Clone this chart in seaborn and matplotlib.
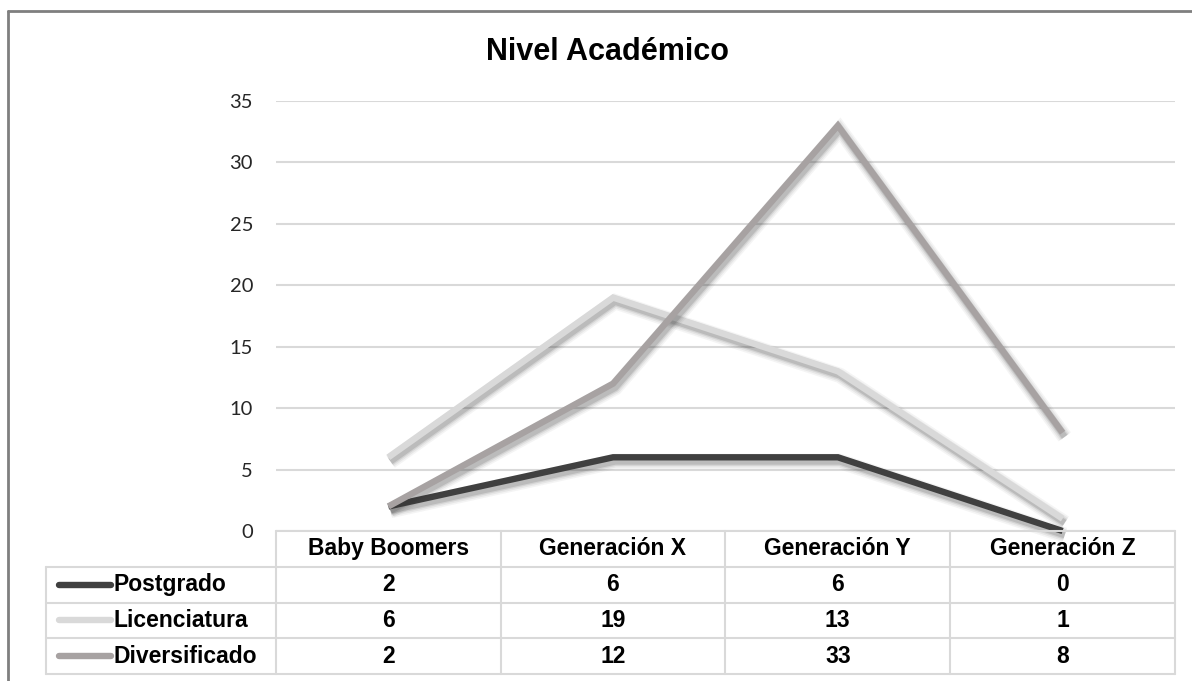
import pandas as pd
import numpy as np
import matplotlib.pyplot as plt
import matplotlib.patheffects as pe
from matplotlib.lines import Line2D
import seaborn as sns

# data
generaciones = ['Baby Boomers', 'Generación X', 'Generación Y', 'Generación Z']
series = ['Postgrado', 'Licenciatura', 'Diversificado']
postgrado = [2, 6, 6, 0]
licenciatura = [6, 19, 13, 1]
diversificado = [2, 12, 33, 8]
colores = ['#404040', '#d9d9d9', '#a7a2a2']
y_ticks = [0, 5, 10, 15, 20, 25, 30, 35]

valores = [postgrado, licenciatura, diversificado]
df = pd.DataFrame({
    'Generacion': generaciones * len(series),
    'Nivel': np.repeat(series, len(generaciones)),
    'Valor': np.concatenate(valores),
})

sns.set_theme(style='white')
plt.rcParams['font.family'] = ['Liberation Sans', 'DejaVu Sans']

W, H = 1192, 681
fig = plt.figure(figsize=(W / 100, H / 100), dpi=100)

def fbox(x0, y0, x1, y1):
    # pixel box (top-left origin) -> figure fraction rect
    return [x0 / W, 1 - y1 / H, (x1 - x0) / W, (y1 - y0) / H]

LW = 4.6
ax = fig.add_axes(fbox(276, 101, 1175, 531))
# soft drop shadow, stacked to fake a blur
shadow = [pe.SimpleLineShadow(offset=(1.5, -3), alpha=a, shadow_color='#333333', linewidth=LW * k)
          for k, a in [(2.4, 0.05), (1.9, 0.07), (1.4, 0.10), (1.0, 0.15)]]
shadow.append(pe.Normal())
sns.lineplot(data=df, x='Generacion', y='Valor', hue='Nivel', hue_order=series,
             palette=colores, sort=False, linewidth=LW, ax=ax, legend=False)
for ln in ax.get_lines():
    ln.set_path_effects(shadow)
    ln.set_solid_joinstyle('miter')
    ln.set_solid_capstyle('butt')
    ln.set_clip_on(False)

ax.set_xlim(-0.5, len(generaciones) - 0.5)
ax.set_ylim(0, 35)
ax.set_yticks(y_ticks)
ax.set_yticklabels([str(t) for t in y_ticks], family=['Lato', 'DejaVu Sans'], fontsize=14.5)
ax.tick_params(axis='y', length=0, pad=16.5)
ax.set_xticks([])
ax.set_xlabel('')
ax.set_ylabel('')
ax.yaxis.grid(True, color='#d9d9d9', linewidth=1.5)
ax.set_axisbelow(True)
for s in ax.spines.values():
    s.set_visible(False)

# data table under the chart
n = len(generaciones)
label_w = (276 - 46) / 225
tab = fig.add_axes(fbox(46, 531, 1175, 674))
tab.set_xlim(-0.5 - label_w, n - 0.5)
tab.set_ylim(len(series) + 1, 0)
tab.axis('off')
gc = '#d9d9d9'
glw = 1.5
# horizontal lines
tab.plot([-0.5, n - 0.5], [0, 0], color=gc, lw=glw, clip_on=False)
for r in range(1, len(series) + 2):
    tab.plot([-0.5 - label_w, n - 0.5], [r, r], color=gc, lw=glw, clip_on=False)
# vertical lines
tab.plot([-0.5 - label_w] * 2, [1, len(series) + 1], color=gc, lw=glw, clip_on=False)
for c in range(n + 1):
    tab.plot([c - 0.5] * 2, [0, len(series) + 1], color=gc, lw=glw, clip_on=False)

fs = 16.5
for c, g in enumerate(generaciones):
    tab.text(c, 0.5, g, ha='center', va='center', fontsize=fs, fontweight='bold', color='black')
for r, (nombre, vals, col) in enumerate(zip(series, valores, colores), start=1):
    x0 = -0.5 - label_w + 0.06
    x1 = x0 + 0.23
    tab.add_line(Line2D([x0, x1], [r + 0.5, r + 0.5], color=col, lw=LW,
                        solid_capstyle='round'))
    tab.text(x1 + 0.01, r + 0.5, nombre, ha='left', va='center', fontsize=fs,
             fontweight='bold', color='black')
    for c, v in enumerate(vals):
        tab.text(c, r + 0.5, str(v), ha='center', va='center', fontsize=fs,
                 fontweight='bold', color='black')

fig.text(607 / W, 1 - 52 / H, 'Nivel Académico', ha='center', va='center',
         fontsize=22, fontweight='bold', color='black')

# outer frame (top and left edges visible)
fig.add_artist(Line2D([8 / W, 8 / W], [0, 1 - 11 / H], color='#7f7f7f', lw=2))
fig.add_artist(Line2D([8 / W, 1], [1 - 11 / H, 1 - 11 / H], color='#7f7f7f', lw=2))

fig.savefig('out.png', dpi=100)
